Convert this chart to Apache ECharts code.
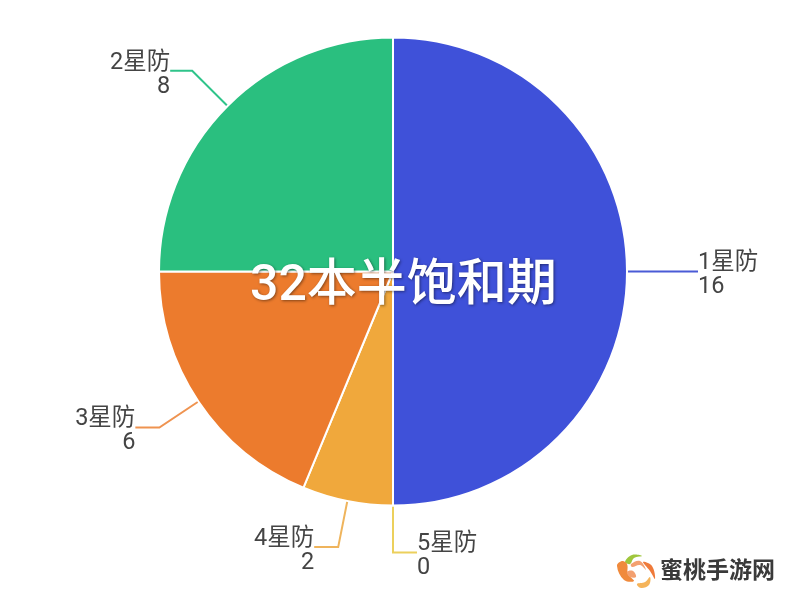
<!DOCTYPE html>
<html><head><meta charset="utf-8">
<style>html,body{margin:0;background:#fff}#c{width:796px;height:596px}</style>
<script src="https://cdn.jsdelivr.net/npm/echarts@6/dist/echarts.min.js"></script></head>
<body><div id="c"></div>
<script>
const categories = ['1星防','5星防','4星防','3星防','2星防'];
const values = [16,0,2,6,8];
const sliceColors = ['#3f51d9','#f2c744','#f0a83c','#ec7b2d','#2abf7f'];
const lineColors = ['#4a5bd6','#ecd05c','#efb45c','#ef9350','#2fc48a'];
const lineLengths = [[47,24],[47,24],[47,24],[47,24],[50,22]];
const title = '32本半饱和期';
const watermark = '蜜桃手游网';
const font = 'Roboto, "Noto Sans CJK SC", sans-serif';
const chart = echarts.init(document.getElementById('c'));
const logo = (points,c)=>({type:'polygon',silent:true,shape:{points,smooth:0.4},style:{fill:c}});
chart.setOption({
  animation:false,
  backgroundColor:'#fff',
  title:{text:title,left:250,top:263,padding:0,textStyle:{color:'#fff',fontSize:50,fontWeight:500,fontFamily:font,
    textShadowColor:'rgba(0,0,0,0.45)',textShadowBlur:3,textShadowOffsetX:1,textShadowOffsetY:1}},
  series:[{
    type:'pie',center:[393,271.5],radius:[0,234],startAngle:90,clockwise:true,
    avoidLabelOverlap:false,stillShowZeroSum:true,z:2,
    itemStyle:{borderColor:'#fff',borderWidth:2},
    label:{show:true,formatter:'{b}\n{c}',color:'#444',fontSize:23.5,lineHeight:24,fontFamily:font,distanceToLabelLine:0,offset:[0,4]},
    data:categories.map((n,i)=>({name:n,value:values[i],
      itemStyle:{color:sliceColors[i]},
      label:{align:(i<2)?'left':'right'},
      labelLine:{length:lineLengths[i][0],length2:lineLengths[i][1],lineStyle:{color:lineColors[i],width:2}}}))
  }],
  graphic:[
    {type:'text',left:660,top:558,style:{text:watermark,font:'bold 23px "Noto Sans CJK SC"',fill:'#3a3a3a'}},
    logo([[625,562],[632,555],[642,556],[634,558],[630,564]],'#9fc63c'),
    logo([[617,566],[622,561],[627,564],[628,574],[634,581],[624,580]],'#f08a3c'),
    logo([[637,584],[645,582],[650,577],[649,585],[641,588]],'#f5b45a'),
    logo([[643,562],[652,566],[655,579],[650,571]],'#ef7a3a'),
    logo([[627,572],[633,571],[636,577],[630,577]],'#f3a070'),
    logo([[631,564],[640,561],[646,570],[640,565],[632,567]],'#f3a070')
  ]
});
</script></body></html>
